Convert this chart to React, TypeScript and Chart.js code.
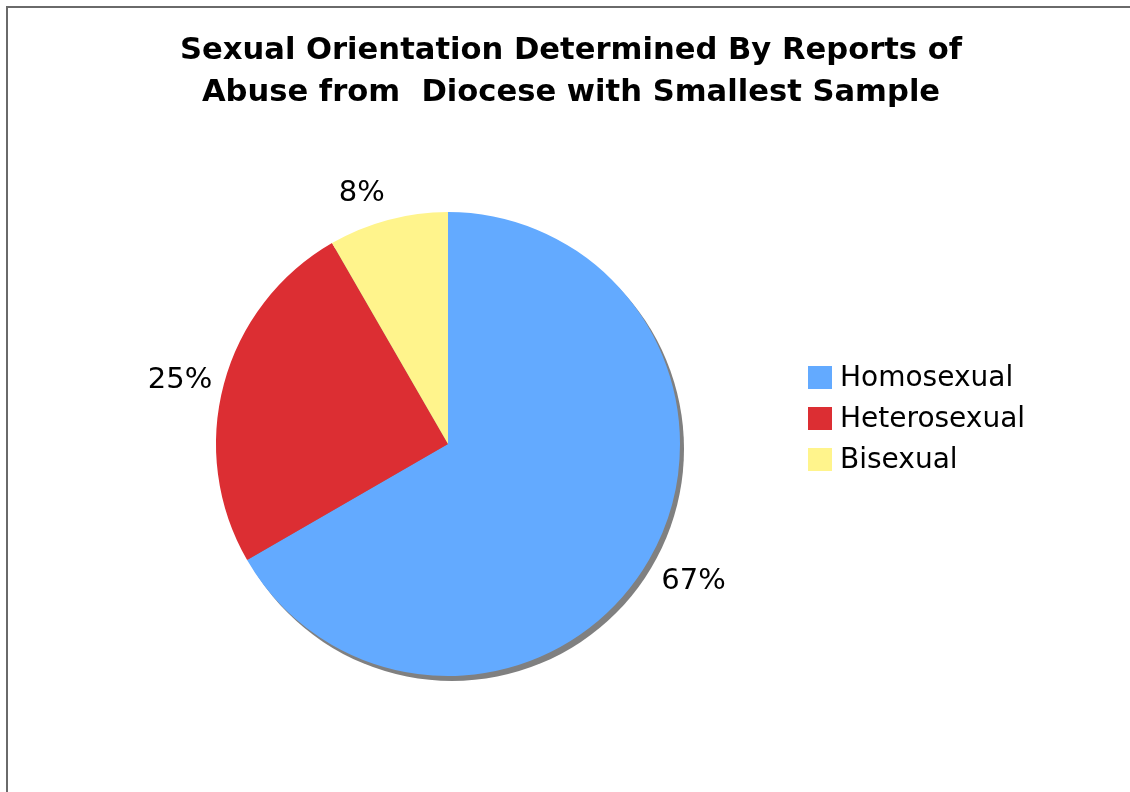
import React, { useEffect, useRef } from "react";
import { Chart, registerables } from "chart.js";

Chart.register(...registerables);

const categories = ["Homosexual", "Heterosexual", "Bisexual"];
const values = [8, 3, 1];
const colors = ["#63AAFF", "#DC2E33", "#FFF48C"];
const titleLines = ["Sexual Orientation Determined By Reports of", "Abuse from  Diocese with Smallest Sample"];

const FONT = "'DejaVu Sans', Verdana, sans-serif";

const decorPlugin = {
  id: "decor",
  beforeDraw(chart: any) {
    const ctx = chart.ctx;
    ctx.save();
    ctx.fillStyle = "#ffffff";
    ctx.fillRect(0, 0, chart.width, chart.height);
    ctx.strokeStyle = "#6a6a6a";
    ctx.lineWidth = 2;
    ctx.beginPath();
    ctx.moveTo(7, chart.height + 2);
    ctx.lineTo(7, 7);
    ctx.lineTo(chart.width + 2, 7);
    ctx.stroke();
    // title
    ctx.fillStyle = "#000";
    ctx.font = `bold 30.6px ${FONT}`;
    ctx.textAlign = "center";
    ctx.textBaseline = "middle";
    titleLines.forEach((t, i) => ctx.fillText(t, 571, 51 + i * 42));
    // legend
    ctx.font = `28px ${FONT}`;
    ctx.textAlign = "left";
    categories.forEach((c, i) => {
      const y = 378 + i * 41;
      ctx.fillStyle = colors[i];
      ctx.fillRect(808, y - 12, 24, 23);
      ctx.fillStyle = "#000";
      ctx.fillText(c, 840, y + 1);
    });
    ctx.restore();
  },
  beforeDatasetsDraw(chart: any) {
    const arc = chart.getDatasetMeta(0).data[0];
    if (!arc) return;
    const ctx = chart.ctx;
    ctx.save();
    ctx.fillStyle = "#808080";
    ctx.beginPath();
    ctx.arc(arc.x + 4, arc.y + 5, arc.outerRadius, 0, Math.PI * 2);
    ctx.fill();
    ctx.restore();
  },
  afterDatasetsDraw(chart: any) {
    const meta = chart.getDatasetMeta(0);
    const total = values.reduce((a, b) => a + b, 0);
    const ctx = chart.ctx;
    ctx.save();
    ctx.font = `29px ${FONT}`;
    ctx.fillStyle = "#000";
    meta.data.forEach((el: any, i: number) => {
      const mid = (el.startAngle + el.endAngle) / 2;
      const c = Math.cos(mid);
      const s = Math.sin(mid);
      const r = el.outerRadius + 12;
      let x = el.x + r * c;
      let y = el.y + r * s;
      ctx.textAlign = Math.abs(c) < 0.1 ? "center" : c > 0 ? "left" : "right";
      ctx.textBaseline = s > 0.4 ? "top" : s < -0.4 ? "bottom" : "middle";
      if (c > 0) { x += 2; y += 1; }
      const pct = Math.round((values[i] / total) * 100);
      ctx.fillText(pct + "%", x, y);
    });
    ctx.restore();
  },
};

export default function App() {
  const ref = useRef<HTMLCanvasElement>(null);
  useEffect(() => {
    document.body.style.margin = "0";
    const chart = new Chart(ref.current!, {
      type: "pie",
      data: {
        labels: categories,
        datasets: [
          {
            data: values,
            backgroundColor: colors,
            borderWidth: 0,
            hoverOffset: 0,
          },
        ],
      },
      options: {
        animation: false,
        responsive: false,
        events: [],
        layout: { padding: { left: 216, right: 450, top: 212, bottom: 116 } },
        plugins: {
          legend: { display: false },
          title: { display: false },
          tooltip: { enabled: false },
        },
      },
      plugins: [decorPlugin],
    });
    return () => chart.destroy();
  }, []);
  return (
    <div style={{ width: 1130, height: 792 }}>
      <canvas ref={ref} width={1130} height={792} style={{ display: "block" }} />
    </div>
  );
}
